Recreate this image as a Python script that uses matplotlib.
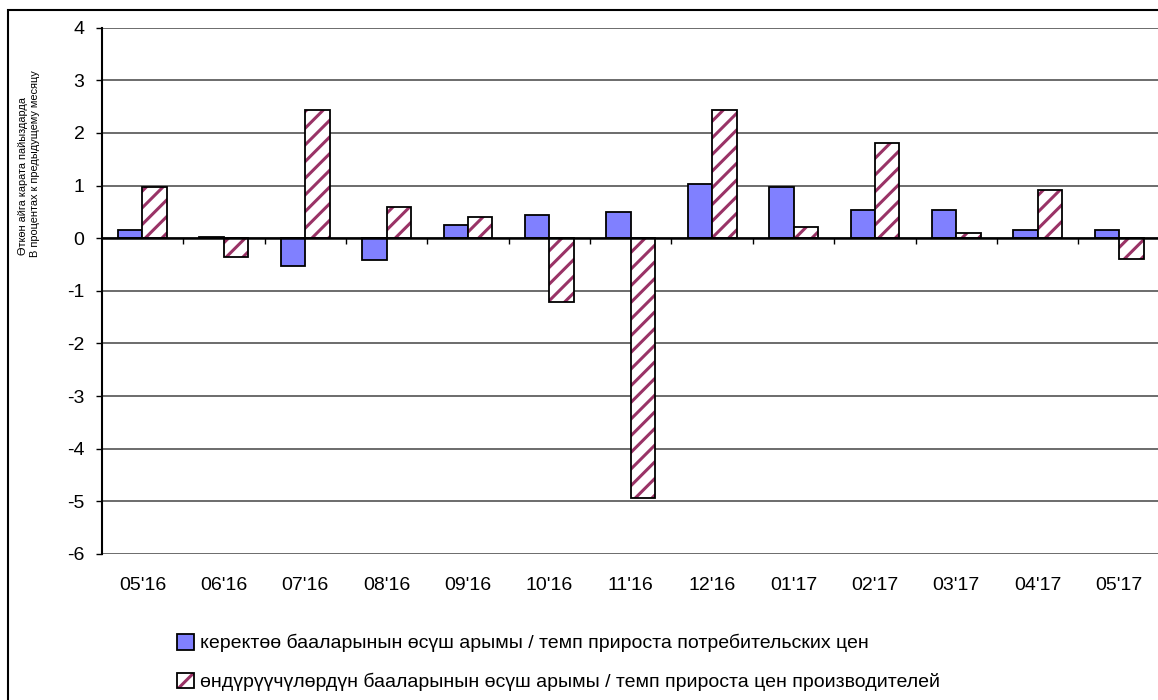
"""Monthly price growth rates: consumer vs producer prices, 05'16 - 05'17."""

import matplotlib
matplotlib.use("Agg")
import matplotlib.pyplot as plt
from matplotlib.patches import Patch, Rectangle
from matplotlib.legend_handler import HandlerTuple
import numpy as np

plt.rcParams["font.family"] = ["Liberation Sans", "DejaVu Sans"]
plt.rcParams["hatch.linewidth"] = 2.2
plt.rcParams["axes.unicode_minus"] = False

MONTHS = ["05'16", "06'16", "07'16", "08'16", "09'16", "10'16", "11'16",
          "12'16", "01'17", "02'17", "03'17", "04'17", "05'17"]
CPI_GROWTH = [0.15, 0.02, -0.52, -0.42, 0.25, 0.45, 0.50,
              1.03, 0.97, 0.53, 0.53, 0.15, 0.15]
PPI_GROWTH = [0.97, -0.35, 2.43, 0.60, 0.40, -1.22, -4.93,
              2.43, 0.22, 1.80, 0.09, 0.92, -0.40]
Y_TICKS = list(range(-6, 5))

LABEL_CPI = "керектөө бааларынын өсүш арымы / темп прироста потребительских цен"
LABEL_PPI = "өндүрүүчүлөрдүн бааларынын өсүш арымы / темп прироста цен производителей"
YLABEL_KG = "Өткөн айга карата пайыздарда"
YLABEL_RU = "В процентах к предыдущему месяцу"

BLUE = "#8080FF"
HATCH_COLOR = "#993366"
FS = 14

fig = plt.figure(figsize=(11.58, 7.0), dpi=100)
ax = fig.add_axes([101.8 / 1158, 146 / 700, 1058 / 1158, 526.3 / 700])

x = np.arange(len(MONTHS))
w = 0.3

ax.bar(x - w / 2, CPI_GROWTH, width=w, color=BLUE, edgecolor="black",
       linewidth=1.3, zorder=3)
# hatched series: stripes layer + black outline layer
ax.bar(x + w / 2, PPI_GROWTH, width=w, color="white", edgecolor=HATCH_COLOR,
       hatch="//", linewidth=0, zorder=3)
ax.bar(x + w / 2, PPI_GROWTH, width=w, fill=False, edgecolor="black",
       linewidth=1.3, zorder=4)

ax.set_xlim(-0.5, len(MONTHS) - 0.5)
ax.set_ylim(-6, 4)
ax.set_yticks(Y_TICKS)
ax.tick_params(axis="y", direction="out", length=4.5, width=1, pad=8,
               labelsize=FS)
ax.yaxis.grid(True, color="#606060", linewidth=1.3, zorder=0)

for side in ["top", "right"]:
    ax.spines[side].set_visible(False)
ax.spines["left"].set_linewidth(1.5)
ax.spines["bottom"].set_position(("data", 0))
ax.spines["bottom"].set_linewidth(1.8)
ax.spines["bottom"].set_zorder(5)

ax.set_xticks(x)
ax.set_xticklabels([])
ax.tick_params(axis="x", which="major", length=0)
ax.set_xticks(x[:-1] + 0.5, minor=True)
ax.tick_params(axis="x", which="minor", direction="out", length=4, width=1)

for xi, lbl in zip(x, MONTHS):
    ax.annotate(lbl, xy=(xi, 0), xycoords=ax.get_xaxis_transform(),
                xytext=(0, -23), textcoords="offset points",
                ha="center", va="center", fontsize=FS)

fig.text(23 / 1158, 1 - 255 / 700, YLABEL_KG, rotation=90, ha="center",
         va="bottom", fontsize=7.9)
fig.text(35 / 1158, 1 - 257 / 700, YLABEL_RU, rotation=90, ha="center",
         va="bottom", fontsize=7.9)

h_cpi = Patch(facecolor=BLUE, edgecolor="black", linewidth=1.3)
h_ppi = (Patch(facecolor="white", edgecolor=HATCH_COLOR, hatch="/", linewidth=0),
         Patch(fill=False, edgecolor="black", linewidth=1.3))
fig.legend([h_cpi, h_ppi], [LABEL_CPI, LABEL_PPI],
           handler_map={tuple: HandlerTuple(ndivide=1, pad=0)},
           loc="upper left", bbox_to_anchor=(177 / 1158, 1 - 634 / 700),
           frameon=False, fontsize=FS, handlelength=0.85, handleheight=0.85,
           handletextpad=0.35, labelspacing=1.05, borderpad=0,
           borderaxespad=0)

# outer chart frame (right and bottom edges fall outside the image)
fig.patches.append(Rectangle((8 / 1158, -0.1), 1.2, 1.1 - 10 / 700,
                             transform=fig.transFigure, fill=False,
                             edgecolor="black", linewidth=1.5))

fig.savefig("out.png", dpi=100)
